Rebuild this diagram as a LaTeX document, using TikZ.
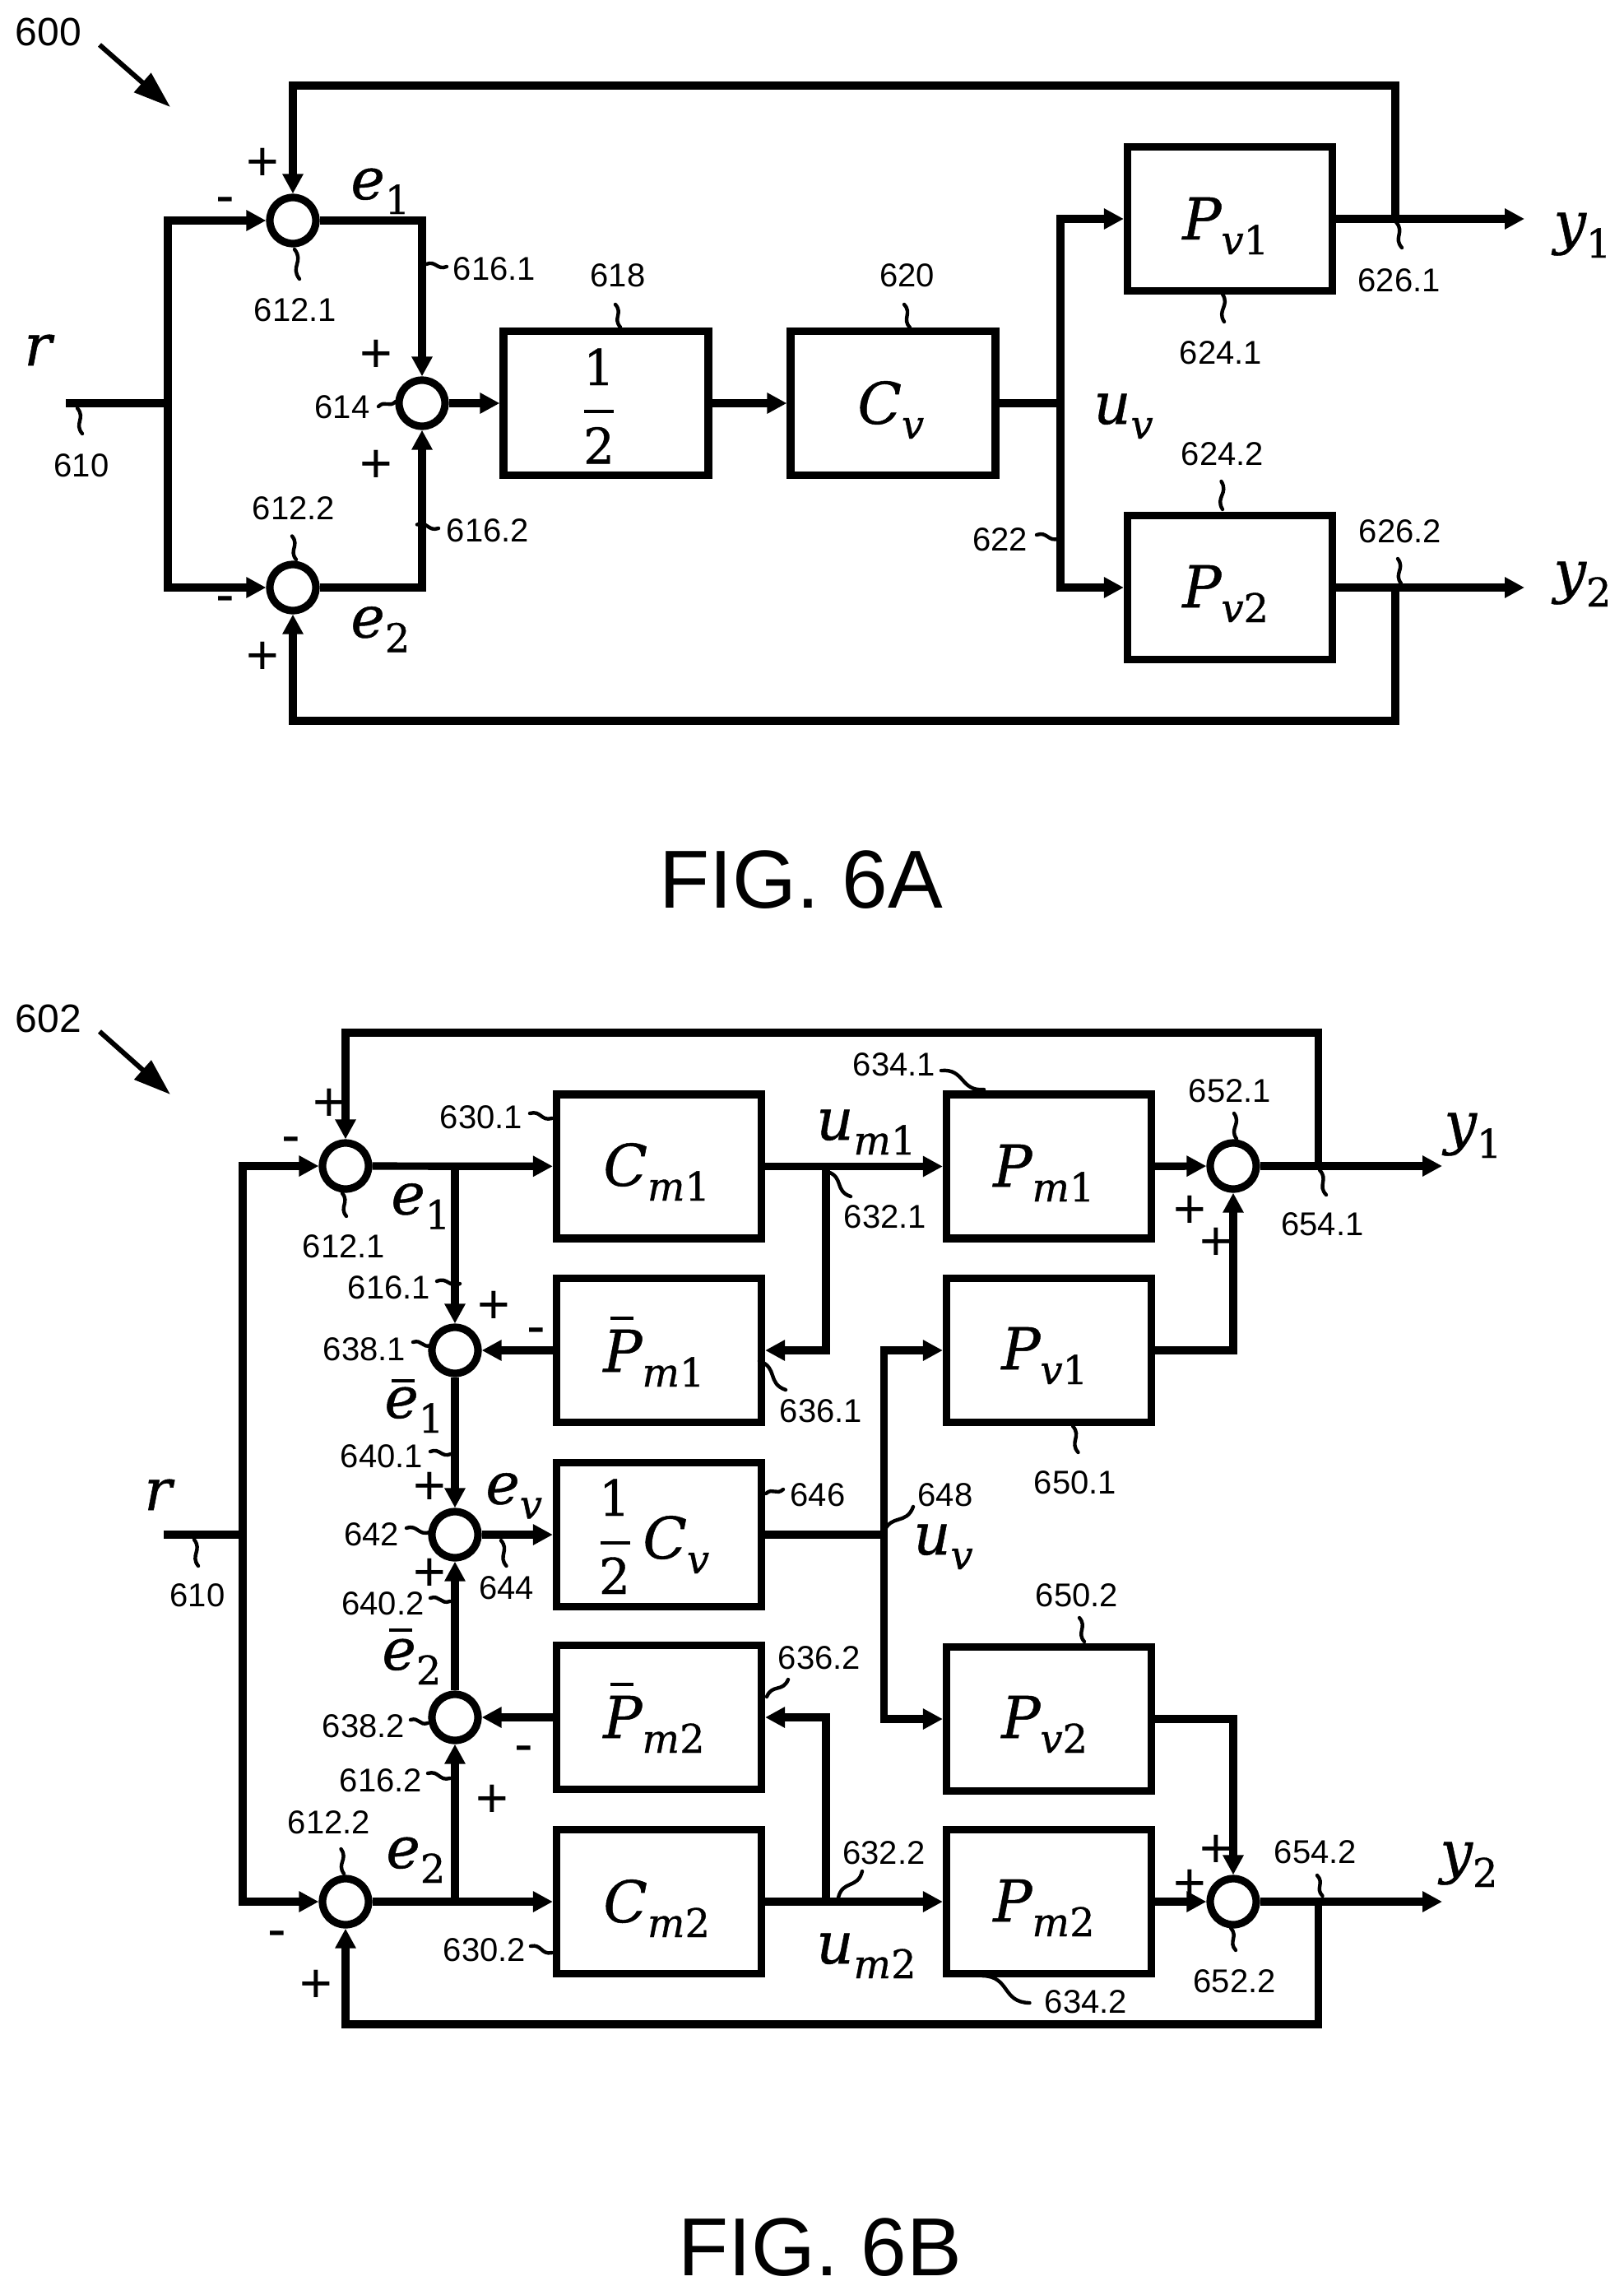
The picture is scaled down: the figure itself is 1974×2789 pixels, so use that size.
\documentclass[tikz,border=0pt]{standalone}
\usepackage{fontspec}
\usetikzlibrary{arrows.meta,calc}
\setmainfont{Liberation Sans}
\newfontfamily\mif[UprightFeatures={FakeBold=0.7},ItalicFeatures={FakeBold=0.7}]{DejaVu Serif}
\newcommand\symb[2]{{\mif\itshape\fontsize{35}{35}\selectfont #1}\raisebox{-9pt}{\fontsize{24}{24}\selectfont\mif #2}}
\newcommand\si{\itshape}
\newcommand\su{\upshape}
\newcommand\barO[3]{\rlap{\hspace{#1}\raisebox{#2}{\rule{#3}{2pt}}}}
\newcommand\ldr[2]{\draw[leader] (#1) .. controls ($(#1)!0.45!(#2)!0.45!90:(#2)$) and ($(#2)!0.45!(#1)!0.45!90:(#1)$) .. (#2);}
\tikzset{
  wire/.style={line width=4.6pt,line cap=butt,line join=miter},
  arrw/.style={wire,-{Triangle[length=12pt,width=12pt]}},
  bigarrow/.style={line width=3pt,-{Triangle[length=22.5pt,width=15pt]}},
  leader/.style={line width=2.2pt,line cap=round},
  blk/.style={draw,line width=4.6pt,minimum width=124.5pt,minimum height=87.5pt,inner sep=0pt},
  sumnode/.style={circle,draw,line width=4.6pt,minimum size=28pt,inner sep=0pt},
  lbl/.style={inner sep=0pt,font=\fontsize{20}{24}\selectfont},
  reflbl/.style={inner sep=0pt,font=\fontsize{24}{28}\selectfont},
  figlbl/.style={inner sep=0pt,font=\fontsize{50}{56}\selectfont},
  sgn/.style={inner sep=0pt,font=\fontsize{34}{36}\selectfont},
  mth/.style={inner sep=0pt,anchor=base west},
  dig/.style={inner sep=0pt,anchor=base,font=\mif\fontsize{30}{30}\selectfont},
  barline/.style={line width=2pt}
}
\begin{document}
\begin{tikzpicture}[x=0.5pt,y=-0.5pt]
\useasboundingbox (0,0) rectangle (1974,2789);
\fill[white] (0,0) rectangle (1974,2789);
%% ---------- FIG 6A ----------
\node[reflbl] (t600) at (59,38.5) {600};
\coordinate (a600s) at (121,54.5);
\coordinate (a600e) at (207,130);
\draw[bigarrow] (a600s) -- (a600e);
\node[sumnode] (a1) at (356,268) {};
\node[sumnode] (a2) at (356,714) {};
\node[sumnode] (a3) at (513,490) {};
\node[blk] (ahalf) at (736.5,490) {};
\node[blk] (acv) at (1085.5,490) {};
\node[blk] (apv1) at (1495,266) {};
\node[blk] (apv2) at (1495,714) {};
\coordinate (arin) at (80,490);
\coordinate (arj) at (204,490);
\coordinate (auj) at (1289,490);
\coordinate (ao1) at (1853,266);
\coordinate (ao2) at (1853,714);
\coordinate (afb1) at (1696,266);
\coordinate (afb2) at (1696,714);
\coordinate (afc1) at (1696,104);
\coordinate (afc2) at (1696,876);
\draw[wire] (arin) -- (arj);
\draw[arrw] (arj) |- (a1.west);
\draw[arrw] (arj) |- (a2.west);
\draw[arrw] (a1.east) -| (a3.north);
\draw[arrw] (a2.east) -| (a3.south);
\draw[arrw] (a3) -- (ahalf);
\draw[arrw] (ahalf) -- (acv);
\draw[wire] (acv.east) -- (auj);
\draw[arrw] (auj) |- (apv1.west);
\draw[arrw] (auj) |- (apv2.west);
\draw[arrw] (apv1.east) -- (ao1);
\draw[arrw] (apv2.east) -- (ao2);
\draw[arrw] (afb1) -- (afc1) -| (a1.north);
\draw[arrw] (afb2) -- (afc2) -| (a2.south);
\node[sgn] (ap1) at (319,200) {+};
\node[sgn] (ap2) at (457,433) {+};
\node[sgn] (ap3) at (457,567) {+};
\node[sgn] (ap4) at (319,800) {+};
\node[sgn] (am1) at (274,250) {-};
\node[sgn] (am2) at (274,735) {-};
\node[mth] (ar) at (29,444) {\symb{r}{}};
\node[mth] (ae1) at (426,242) {\symb{e}{\su 1}};
\node[mth] (ae2) at (426,774.5) {\symb{e}{\su 2}};
\node[mth] (apl1) at (1437,291) {\symb{P}{\si v\su 1}};
\node[mth] (apl2) at (1437,738) {\symb{P}{\si v\su 2}};
\node[mth] (acl) at (1042,515) {\symb{C}{\si v}};
\node[mth] (auv) at (1329,515) {\symb{u}{\si v}};
\node[mth] (ay1) at (1888,295) {\symb{y}{\su 1}};
\node[mth] (ay2) at (1888,719) {\symb{y}{\su 2}};
\node[dig] (ah1) at (728,468) {1};
\node[dig] (ah2) at (728,563.5) {2};
\coordinate (ahb1) at (710,500);
\coordinate (ahb2) at (746,500);
\draw[barline] (ahb1) -- (ahb2);
\node[lbl] (l6121) at (359,377) {612.1};
\node[lbl] (l6161) at (601,327) {616.1};
\node[lbl] (l618) at (751,335) {618};
\node[lbl] (l614) at (416,495) {614};
\node[lbl] (l610) at (99,565.5) {610};
\node[lbl] (l6122) at (357,618) {612.2};
\node[lbl] (l6162) at (593,645) {616.2};
\node[lbl] (l620) at (1102.5,335) {620};
\node[lbl] (l622) at (1215.5,656) {622};
\node[lbl] (l6241) at (1484,428.5) {624.1};
\node[lbl] (l6242) at (1486,551.5) {624.2};
\node[lbl] (l6261) at (1700.6,340.6) {626.1};
\node[lbl] (l6262) at (1702,645.5) {626.2};
\ldr{358,303}{364,339}
\ldr{518,321}{543,324}
\ldr{754,397.5}{748,370}
\ldr{94,496}{100,527}
\ldr{460,494}{481,488}
\ldr{507,637.5}{533,642}
\ldr{360,680}{355,651.5}
\ldr{1106,398}{1099,370}
\ldr{1260,650}{1287,654.5}
\ldr{1486,357.5}{1488,391}
\ldr{1486,619}{1484.5,585}
\ldr{1697,270}{1704,301}
\ldr{1703,709}{1699,679}
\node[figlbl] (fa) at (974,1069) {FIG. 6A};
%% ---------- FIG 6B ----------
\node[reflbl] (t602) at (59,1238) {602};
\coordinate (a602s) at (121,1253.5);
\coordinate (a602e) at (207,1330);
\draw[bigarrow] (a602s) -- (a602e);
\node[sumnode] (b1) at (420,1417) {};
\node[sumnode] (b2) at (420,2311) {};
\node[sumnode] (b3) at (553,1641) {};
\node[sumnode] (b4) at (553,1865) {};
\node[sumnode] (b5) at (553,2087) {};
\node[sumnode] (b6) at (1499,1417) {};
\node[sumnode] (b7) at (1499,2311) {};
\node[blk] (cm1) at (801,1417.5) {};
\node[blk] (pb1) at (801,1641) {};
\node[blk] (bcv) at (801,1865) {};
\node[blk] (pb2) at (801,2087) {};
\node[blk] (cm2) at (801,2311) {};
\node[blk] (pm1) at (1275,1417.5) {};
\node[blk] (pv1) at (1275,1641) {};
\node[blk] (pv2) at (1275,2089) {};
\node[blk] (pm2) at (1275,2311) {};
\coordinate (brin) at (199,1865);
\coordinate (brj) at (295,1865);
\coordinate (be1) at (553,1417);
\coordinate (be2) at (553,2311);
\coordinate (bu1) at (1004,1417);
\coordinate (bu2) at (1004,2311);
\coordinate (buj) at (1074.5,1865);
\coordinate (bo1) at (1753,1417);
\coordinate (bo2) at (1753,2311);
\coordinate (bf1) at (1602.5,1417);
\coordinate (bf2) at (1602.5,2311);
\coordinate (bc1) at (1602.5,1255);
\coordinate (bc2) at (1602.5,2460);
\draw[wire] (brin) -- (brj);
\draw[arrw] (brj) |- (b1.west);
\draw[arrw] (brj) |- (b2.west);
\draw[arrw] (b1) -- (cm1);
\draw[arrw] (b2) -- (cm2);
\draw[arrw] (be1) -- (b3.north);
\draw[arrw] (be2) -- (b5.south);
\draw[arrw] (pb1) -- (b3);
\draw[arrw] (pb2) -- (b5);
\draw[arrw] (b3) -- (b4);
\draw[arrw] (b5) -- (b4);
\draw[arrw] (b4) -- (bcv);
\draw[arrw] (cm1) -- (pm1);
\draw[arrw] (cm2) -- (pm2);
\draw[arrw] (bu1) |- (pb1.east);
\draw[arrw] (bu2) |- (pb2.east);
\draw[wire] (bcv.east) -- (buj);
\draw[arrw] (buj) |- (pv1.west);
\draw[arrw] (buj) |- (pv2.west);
\draw[arrw] (pm1) -- (b6);
\draw[arrw] (pm2) -- (b7);
\draw[arrw] (pv1.east) -| (b6.south);
\draw[arrw] (pv2.east) -| (b7.north);
\draw[arrw] (b6) -- (bo1);
\draw[arrw] (b7) -- (bo2);
\draw[arrw] (bf1) -- (bc1) -| (b1.north);
\draw[arrw] (bf2) -- (bc2) -| (b2.south);
\node[sgn] (bp1) at (400,1343) {+};
\node[sgn] (bm1) at (354,1392) {-};
\node[sgn] (bp2) at (600,1589) {+};
\node[sgn] (bm2) at (652,1624.5) {-};
\node[sgn] (bp3) at (522,1809) {+};
\node[sgn] (bp4) at (522,1914) {+};
\node[sgn] (bm3) at (636.5,2132) {-};
\node[sgn] (bp5) at (598,2189) {+};
\node[sgn] (bm4) at (337,2357) {-};
\node[sgn] (bp6) at (384,2414) {+};
\node[sgn] (bp7) at (1446.6,1473) {+};
\node[sgn] (bp8) at (1478,1512) {+};
\node[sgn] (bp9) at (1478,2250) {+};
\node[sgn] (bp10) at (1446.6,2292) {+};
\node[mth] (br) at (175,1835) {\symb{r}{}};
\node[mth] (be1l) at (475,1475.5) {\symb{e}{\su 1}};
\node[mth] (be2l) at (469,2270) {\symb{e}{\su 2}};
\node[mth] (bebar1) at (467,1723) {\barO{4.5pt}{21.5pt}{14pt}\symb{e}{\su 1}};
\node[mth] (bebar2) at (464,2029) {\barO{4.5pt}{23pt}{14pt}\symb{e}{\su 2}};
\node[mth] (bev) at (590,1827.5) {\symb{e}{\si v}};
\node[mth] (bcm1) at (733,1441) {\symb{C}{\si m\su 1}};
\node[mth] (bcm2) at (733,2336) {\symb{C}{\si m\su 2}};
\node[mth] (bpb1) at (733,1667) {\barO{4.5pt}{31.5pt}{14pt}\symb{P}{\si m\su 1}};
\node[mth] (bpb2) at (733,2112) {\barO{4.5pt}{31.5pt}{14pt}\symb{P}{\si m\su 2}};
\node[mth] (bcvl) at (781,1894) {\symb{C}{\si v}};
\node[dig] (bh1) at (747,1842) {1};
\node[dig] (bh2) at (747,1937) {2};
\coordinate (bhb1) at (730,1875);
\coordinate (bhb2) at (766,1875);
\draw[barline] (bhb1) -- (bhb2);
\node[mth] (bpm1) at (1207,1442) {\symb{P}{\si m\su 1}};
\node[mth] (bpm2) at (1207,2335) {\symb{P}{\si m\su 2}};
\node[mth] (bpv1) at (1217,1664) {\symb{P}{\si v\su 1}};
\node[mth] (bpv2) at (1217,2112) {\symb{P}{\si v\su 2}};
\node[mth] (bum1) at (992,1385) {\symb{u}{\si m\su 1}};
\node[mth] (bum2) at (992,2386) {\symb{u}{\si m\su 2}};
\node[mth] (buv) at (1110,1889) {\symb{u}{\si v}};
\node[mth] (by1) at (1755,1389) {\symb{y}{\su 1}};
\node[mth] (by2) at (1750,2275) {\symb{y}{\su 2}};
\node[lbl] (m6301) at (585,1358) {630.1};
\node[lbl] (m6121) at (418,1515) {612.1};
\node[lbl] (m6161) at (473,1565) {616.1};
\node[lbl] (m6381) at (443,1640) {638.1};
\node[lbl] (m6401) at (464,1770) {640.1};
\node[lbl] (m642) at (451.5,1865) {642};
\node[lbl] (m644) at (615.5,1930) {644};
\node[lbl] (m610) at (240,1939) {610};
\node[lbl] (m6402) at (465.5,1948.5) {640.2};
\node[lbl] (m646) at (994,1817) {646};
\node[lbl] (m648) at (1149,1817) {648};
\node[lbl] (m6321) at (1076,1479) {632.1};
\node[lbl] (m6341) at (1087,1294) {634.1};
\node[lbl] (m6521) at (1495,1326) {652.1};
\node[lbl] (m6541) at (1607.5,1488) {654.1};
\node[lbl] (m6501) at (1307,1802) {650.1};
\node[lbl] (m6502) at (1309,1939) {650.2};
\node[lbl] (m6361) at (998,1715) {636.1};
\node[lbl] (m6362) at (996,2015) {636.2};
\node[lbl] (m6382) at (442,2098) {638.2};
\node[lbl] (m6162) at (463,2164) {616.2};
\node[lbl] (m6122) at (400,2215) {612.2};
\node[lbl] (m6302) at (589,2370) {630.2};
\node[lbl] (m6322) at (1074.5,2252) {632.2};
\node[lbl] (m6542) at (1599,2251) {654.2};
\node[lbl] (m6522) at (1500.6,2407.5) {652.2};
\node[lbl] (m6342) at (1320,2433) {634.2};
\ldr{644,1353}{671,1359}
\ldr{416,1450}{421,1478}
\ldr{531,1557}{559,1560}
\ldr{502,1631}{524,1635}
\ldr{523,1764}{548,1767}
\ldr{494,1857}{522,1862}
\ldr{609,1872}{615.5,1903}
\ldr{236,1871}{241,1903}
\ldr{523,1942}{547,1946}
\ldr{931,1815}{952,1810}
\ldr{1074.5,1862}{1110,1831}
\ldr{1006,1424}{1034,1454}
\ldr{1144,1301}{1196,1324}
\ldr{1500,1353}{1503,1384}
\ldr{1604,1422}{1612,1452}
\ldr{1304,1733}{1310.5,1765}
\ldr{1312,1966}{1318,1995}
\ldr{923,1654}{955,1689}
\ldr{932,2062}{958,2041}
\ldr{499,2090}{520,2094}
\ldr{520,2155}{547,2161}
\ldr{414.5,2247}{418,2277}
\ldr{645,2365}{671,2373}
\ldr{1019,2306}{1048,2274}
\ldr{1607.5,2304}{1601,2279}
\ldr{1496,2343}{1502,2370}
\ldr{1194,2401}{1251.5,2434}
\node[figlbl] (fb) at (997,2731) {FIG. 6B};
\end{tikzpicture}
\end{document}
